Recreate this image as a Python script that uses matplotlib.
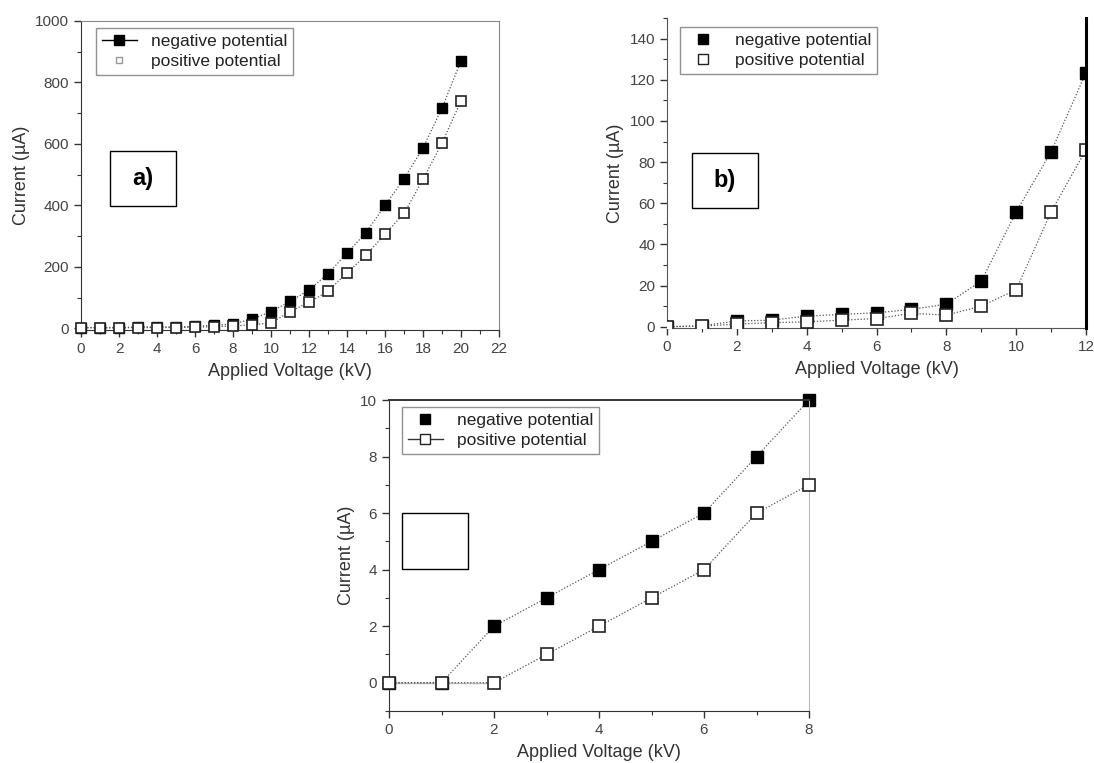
import matplotlib
matplotlib.use("Agg")
import matplotlib.pyplot as plt
from matplotlib.lines import Line2D
from matplotlib.patches import Rectangle
from matplotlib.ticker import MultipleLocator

plt.rcParams['font.family'] = ['Liberation Sans', 'DejaVu Sans']

# Panel a) : 0-20 kV
volt_a = [0, 1, 2, 3, 4, 5, 6, 7, 8, 9, 10, 11, 12, 13, 14, 15, 16, 17, 18, 19, 20]
neg_a = [3, 3, 3, 5, 5, 5, 7, 10, 15, 30, 55, 88, 125, 178, 245, 312, 400, 487, 587, 717, 870]
pos_a = [2, 2, 2, 3, 3, 3, 4, 6, 8, 12, 18, 55, 85, 121, 181, 238, 307, 374, 485, 603, 740]

# Panel b) : 0-12 kV
volt_b = [0, 1, 2, 3, 4, 5, 6, 7, 8, 9, 10, 11, 12]
neg_b = [0, 0.5, 2.8, 3.2, 5.2, 6.0, 6.8, 8.4, 11, 22.2, 55.8, 85, 123.5]
pos_b = [0, 0.3, 1.3, 2.0, 2.4, 3.2, 4.0, 6.5, 5.7, 10, 18, 55.8, 86]

# Panel c) : 0-8 kV
volt_c = [0, 1, 2, 3, 4, 5, 6, 7, 8]
neg_c = [0, 0, 2, 3, 4, 5, 6, 8, 10]
pos_c = [0, 0, 0, 1, 2, 3, 4, 6, 7]

leg_labels = ["negative potential", "positive potential"]
xlabel = "Applied Voltage (kV)"
ylabel = "Current (\u00b5A)"

W, H = 1094, 763
fig = plt.figure(figsize=(W / 100, H / 100), dpi=100)
fig.patch.set_facecolor("white")

TXT = "#333333"


def px_axes(x0, y_top, x1, y_bot):
    return fig.add_axes([x0 / W, 1 - y_bot / H, (x1 - x0) / W, (y_bot - y_top) / H])


def style(ax):
    ax.tick_params(which="both", direction="out", colors="#333333", labelcolor="#444444",
                   labelsize=11)
    ax.tick_params(which="major", length=5, width=1)
    ax.tick_params(which="minor", length=3, width=0.8)
    ax.set_xlabel(xlabel, fontsize=13, color=TXT, labelpad=5)
    ax.set_ylabel(ylabel, fontsize=13, color=TXT, labelpad=4)


def draw(ax, x, neg, pos, ms, clip=False):
    ax.plot(x, neg, linestyle=(0, (1, 1.5)), color="#555555", lw=0.9,
            marker="s", ms=ms, mfc="black", mec="black", clip_on=clip, zorder=2)
    ax.plot(x, pos, linestyle=(0, (1, 1.5)), color="#555555", lw=0.9,
            marker="s", ms=ms, mfc="white", mec="#222222", mew=1.2, clip_on=clip, zorder=3)


def label_box(x0, y0, x1, y1, text):
    fig.patches.append(Rectangle((x0 / W, 1 - y1 / H), (x1 - x0) / W, (y1 - y0) / H,
                                 transform=fig.transFigure, fc="white", ec="black",
                                 lw=1.0, zorder=5))
    if text:
        fig.text((x0 + x1) / 2 / W, 1 - (y0 + y1) / 2 / H, text, ha="center", va="center",
                 fontsize=17, fontweight="bold", color="black", zorder=6)


def legend(ax, handles, x, y):
    lg = ax.legend(handles, leg_labels, loc="upper left",
                   bbox_to_anchor=(x / W, 1 - y / H), bbox_transform=fig.transFigure,
                   fontsize=12.5, frameon=True, fancybox=False, edgecolor="#777777",
                   handlelength=2.0, handletextpad=0.8, borderpad=0.35, labelspacing=0.25,
                   borderaxespad=0)
    for t in lg.get_texts():
        t.set_color("#222222")
    lg.get_frame().set_linewidth(1.0)


# ---- panel a ----
ax_a = px_axes(81, 21, 499, 330)
draw(ax_a, volt_a, neg_a, pos_a, 7.5)
ax_a.set_xlim(0, 22)
ax_a.set_ylim(-5, 1000)
ax_a.xaxis.set_major_locator(MultipleLocator(2))
ax_a.xaxis.set_minor_locator(MultipleLocator(1))
ax_a.yaxis.set_major_locator(MultipleLocator(200))
ax_a.yaxis.set_minor_locator(MultipleLocator(100))
style(ax_a)
for s in ("top", "right"):
    ax_a.spines[s].set_color("#888888")
for s in ("left", "bottom"):
    ax_a.spines[s].set_color("#333333")
h_a = [Line2D([], [], color="black", lw=1, marker="s", ms=7, mfc="black", mec="black"),
       Line2D([], [], color="none", marker="s", ms=5, mfc="white", mec="#999999")]
legend(ax_a, h_a, 96, 28)
label_box(110, 151, 176, 206, "a)")

# ---- panel b ----
ax_b = px_axes(667, 18, 1086, 328)
draw(ax_b, volt_b, neg_b, pos_b, 8.5, clip=True)
ax_b.set_xlim(0, 12)
ax_b.set_ylim(-0.6, 150)
ax_b.xaxis.set_major_locator(MultipleLocator(2))
ax_b.xaxis.set_minor_locator(MultipleLocator(1))
ax_b.yaxis.set_minor_locator(MultipleLocator(10))
ax_b.set_yticks(range(0, 141, 20))
style(ax_b)
ax_b.spines["top"].set_visible(False)
ax_b.spines["right"].set_color("black")
ax_b.spines["right"].set_linewidth(2.2)
ax_b.spines["right"].set_zorder(5)
for s in ("left", "bottom"):
    ax_b.spines[s].set_color("#555555")
h_b = [Line2D([], [], color="none", marker="s", ms=7, mfc="black", mec="black"),
       Line2D([], [], color="none", marker="s", ms=7, mfc="white", mec="#222222")]
legend(ax_b, h_b, 680, 27)
label_box(692, 153, 758, 208, "b)")

# ---- panel c ----
ax_c = px_axes(389, 400, 809, 711)
ax_c.plot(volt_c[:3], pos_c[:3], color="#bbbbbb", lw=1.0, zorder=1)
draw(ax_c, volt_c, neg_c, pos_c, 8)
ax_c.set_xlim(0, 8)
ax_c.set_ylim(-1, 10)
ax_c.xaxis.set_major_locator(MultipleLocator(2))
ax_c.xaxis.set_minor_locator(MultipleLocator(1))
ax_c.yaxis.set_minor_locator(MultipleLocator(1))
ax_c.set_yticks(range(0, 11, 2))
style(ax_c)
ax_c.spines["top"].set_color("#333333")
ax_c.spines["top"].set_linewidth(1.4)
ax_c.spines["right"].set_color("#bbbbbb")
for s in ("left", "bottom"):
    ax_c.spines[s].set_color("#333333")
h_c = [Line2D([], [], color="none", marker="s", ms=7, mfc="black", mec="black"),
       Line2D([], [], color="#333333", lw=1, marker="s", ms=7, mfc="white", mec="#222222")]
legend(ax_c, h_c, 402, 407)
label_box(402, 513, 468, 569, "")

fig.savefig("out.png", dpi=100, facecolor="white")
